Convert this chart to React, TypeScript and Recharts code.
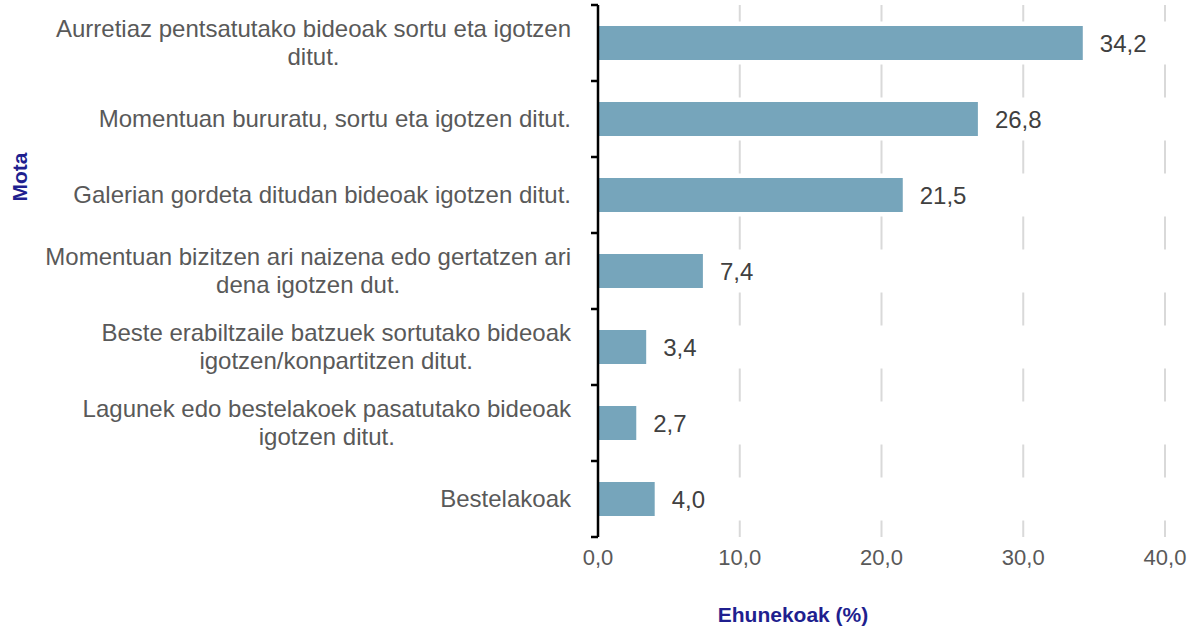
import React from 'react';
import { BarChart, Bar, XAxis, YAxis, CartesianGrid, LabelList, Label } from 'recharts';

const categories: string[] = [
  'Aurretiaz pentsatutako bideoak sortu eta igotzen\nditut.',
  'Momentuan bururatu, sortu eta igotzen ditut.',
  'Galerian gordeta ditudan bideoak igotzen ditut.',
  'Momentuan bizitzen ari naizena edo gertatzen ari\ndena igotzen dut.',
  'Beste erabiltzaile batzuek sortutako bideoak\nigotzen/konpartitzen ditut.',
  'Lagunek edo bestelakoek pasatutako bideoak\nigotzen ditut.',
  'Bestelakoak',
];
const values: number[] = [34.2, 26.8, 21.5, 7.4, 3.4, 2.7, 4.0];
const xTicks: number[] = [0, 10, 20, 30, 40];
const xTitle = 'Ehunekoak (%)';
const yTitle = 'Mota';

const data = categories.map((c, i) => ({ name: c, value: values[i] }));

const W = 1195;
const H = 629;
const MARGIN = { top: 5, right: 30, bottom: 0, left: 0 };
const Y_W = 598;
const X_H = 92;
const PLOT_H = H - MARGIN.top - X_H;
const BAND = PLOT_H / categories.length;

const CAT_FONT = "24px 'Liberation Sans', Arial, sans-serif";
let ctx: CanvasRenderingContext2D | null = null;
function measure(t: string): number {
  if (!ctx) {
    const c = document.createElement('canvas');
    ctx = c.getContext('2d');
  }
  if (!ctx) return t.length * 11;
  ctx.font = CAT_FONT;
  return ctx.measureText(t).width;
}

const fmt = (v: any) => Number(v).toFixed(1).replace('.', ',');

const YTick = (props: any) => {
  const { x, y, payload, index } = props;
  const lines: string[] = String(payload.value).split('\n');
  const maxW = Math.max(...lines.map(measure));
  const right = x - 27;
  const cx = right - maxW / 2;
  const lh = 28;
  const startY = y - ((lines.length - 1) * lh) / 2;
  const top = y - BAND / 2;
  const bottom = y + BAND / 2;
  return (
    <g>
      <line x1={x - 7} x2={x} y1={top} y2={top} stroke="#000" strokeWidth={2.5} />
      {index === categories.length - 1 && (
        <line x1={x - 7} x2={x} y1={bottom} y2={bottom} stroke="#000" strokeWidth={2.5} />
      )}
      <text
        fill="#595959"
        fontSize={24}
        fontFamily="'Liberation Sans', Arial, sans-serif"
        textAnchor={lines.length > 1 ? 'middle' : 'end'}
      >
        {lines.map((l, i) => (
          <tspan key={i} x={lines.length > 1 ? cx : right} y={startY + i * lh} dy="0.35em">
            {l}
          </tspan>
        ))}
      </text>
    </g>
  );
};

const XTick = (props: any) => {
  const { x, y, payload } = props;
  return (
    <text
      x={x}
      y={y + 28}
      fill="#595959"
      fontSize={22}
      fontFamily="'Liberation Sans', Arial, sans-serif"
      textAnchor="middle"
    >
      {fmt(payload.value)}
    </text>
  );
};

export default function App() {
  return (
    <div style={{ position: 'absolute', left: 0, top: 0, background: '#fff' }}>
      <BarChart width={W} height={H} data={data} layout="vertical" margin={MARGIN} barSize={34}>
        <CartesianGrid
          horizontal={false}
          vertical={true}
          stroke="#d9d9d9"
          strokeWidth={2}
          verticalValues={[10, 20, 30, 40]}
        />
        <XAxis
          type="number"
          domain={[0, 40]}
          ticks={xTicks}
          interval={0}
          height={X_H}
          axisLine={false}
          tickLine={false}
          tickSize={0}
          tickMargin={0}
          tick={<XTick />}
        >
          <Label
            content={(p: any) => {
              const vb = p.viewBox || { x: 598, y: 537 };
              return (
                <text
                  x={vb.x + 195}
                  y={vb.y + 85}
                  fill="#1F1F8F"
                  fontSize={21}
                  fontWeight="bold"
                  fontFamily="'Liberation Sans', Arial, sans-serif"
                  textAnchor="middle"
                >
                  {xTitle}
                </text>
              );
            }}
          />
        </XAxis>
        <Bar
          dataKey="value"
          fill="#76A5BB"
          isAnimationActive={false}
          background={{ fill: '#fff', stroke: '#fff', strokeWidth: 9 }}
        >
          <LabelList
            dataKey="value"
            position="right"
            offset={17}
            formatter={fmt}
            fill="#404040"
            fontSize={24}
            fontFamily="'Liberation Sans', Arial, sans-serif"
          />
        </Bar>
        <YAxis
          type="category"
          dataKey="name"
          width={Y_W}
          interval={0}
          axisLine={{ stroke: '#000', strokeWidth: 2.5 }}
          tickLine={false}
          tickSize={0}
          tickMargin={0}
          tick={<YTick />}
        >
          <Label
            content={(p: any) => {
              const vb = p.viewBox || { x: 0, y: 5 };
              const tx = vb.x + 27;
              const ty = vb.y + 172;
              return (
                <text
                  x={tx}
                  y={ty}
                  fill="#1F1F8F"
                  fontSize={21}
                  fontWeight="bold"
                  fontFamily="'Liberation Sans', Arial, sans-serif"
                  textAnchor="middle"
                  transform={`rotate(-90, ${tx}, ${ty})`}
                >
                  {yTitle}
                </text>
              );
            }}
          />
        </YAxis>
      </BarChart>
    </div>
  );
}
